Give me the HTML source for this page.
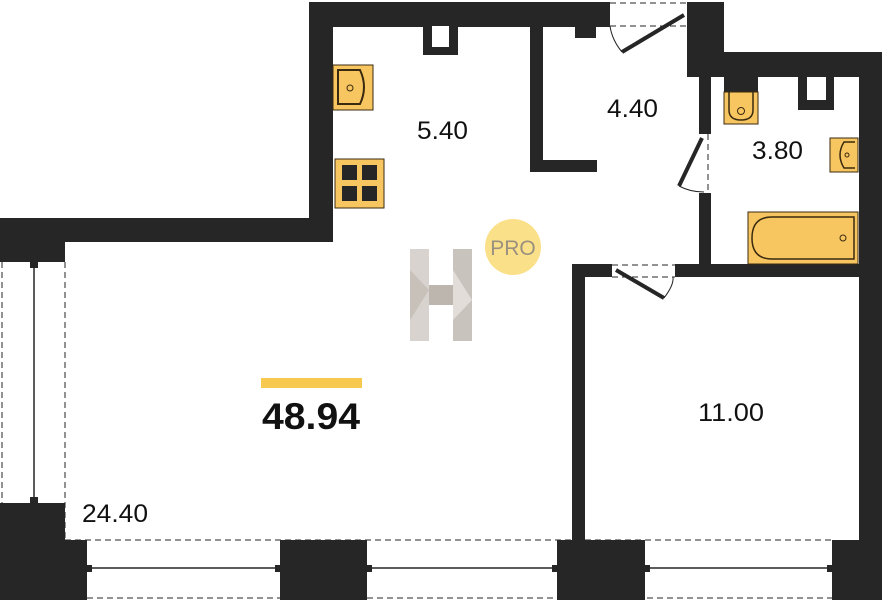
<!DOCTYPE html>
<html><head><meta charset="utf-8"><style>
html,body{margin:0;padding:0;background:#fff;}
svg{display:block;}
text{font-family:"Liberation Sans",sans-serif;}
</style></head><body>
<svg width="882" height="600" viewBox="0 0 882 600" xmlns="http://www.w3.org/2000/svg">
<g fill="#262626">
<rect x="309" y="2" width="301" height="25"/>
<rect x="309" y="2" width="24" height="240"/>
<rect x="0" y="218" width="333" height="24"/>
<rect x="0" y="218" width="65" height="44"/>
<rect x="0" y="503" width="65" height="97"/>
<rect x="0" y="540" width="87" height="60"/>
<rect x="280" y="540" width="87" height="60"/>
<rect x="557" y="540" width="88" height="60"/>
<rect x="832" y="540" width="50" height="60"/>
<rect x="687" y="2" width="37" height="56"/>
<rect x="687" y="52" width="195" height="25"/>
<rect x="859" y="52" width="23" height="548"/>
<rect x="699" y="70" width="12" height="64"/>
<rect x="699" y="193" width="12" height="80"/>
<rect x="572" y="264" width="13" height="276"/>
<rect x="572" y="264" width="40" height="13"/>
<rect x="675" y="264" width="190" height="13"/>
<rect x="530" y="26" width="13" height="146"/>
<rect x="530" y="160" width="67" height="12"/>
<rect x="575" y="26" width="21" height="12"/>
<rect x="423" y="26" width="35" height="29"/>
<rect x="798" y="77" width="36" height="33"/>
<rect x="724" y="77" width="34" height="15"/>
</g>
<rect x="432" y="26" width="17" height="21" fill="#fff"/>
<rect x="807" y="77" width="19" height="23" fill="#fff"/>
<g stroke="#262626" fill="none">
<line x1="684" y1="15" x2="622" y2="52" stroke-width="4"/>
<path d="M622 52 Q612 40 610 26" stroke-width="1"/>
<line x1="610" y1="3" x2="687" y2="3" stroke-dasharray="6,4" stroke-width="1"/>
<line x1="610" y1="26" x2="687" y2="26" stroke-dasharray="6,4" stroke-width="1"/>
<line x1="702" y1="138" x2="679" y2="186" stroke-width="4"/>
<path d="M679 186 Q690 192 704 192" stroke-width="1"/>
<line x1="708" y1="134" x2="708" y2="193" stroke-dasharray="6,4" stroke-width="1"/>
<line x1="616" y1="270" x2="664" y2="298" stroke-width="4"/>
<path d="M664 298 Q674 285 673 277" stroke-width="1"/>
<line x1="612" y1="265" x2="675" y2="265" stroke-dasharray="6,4" stroke-width="1"/>
<line x1="612" y1="277" x2="675" y2="277" stroke-dasharray="6,4" stroke-width="1"/>
<line x1="2" y1="262" x2="2" y2="503" stroke-dasharray="6,4" stroke-width="1"/>
<line x1="65" y1="262" x2="65" y2="540" stroke-dasharray="6,4" stroke-width="1"/>
<line x1="34" y1="265" x2="34" y2="500" stroke-width="1.5"/>
<line x1="65" y1="540" x2="832" y2="540" stroke-dasharray="6,4" stroke-width="1"/>
<line x1="87" y1="598" x2="832" y2="598" stroke-dasharray="6,4" stroke-width="1"/>
<line x1="90" y1="568" x2="278" y2="568" stroke-width="1.5"/>
<line x1="369" y1="568" x2="555" y2="568" stroke-width="1.5"/>
<line x1="647" y1="568" x2="830" y2="568" stroke-width="1.5"/>
</g>
<g fill="#262626">
<rect x="30" y="262" width="8" height="6"/><rect x="30" y="497" width="8" height="6"/>
<rect x="87" y="565" width="5" height="7"/><rect x="275" y="565" width="5" height="7"/>
<rect x="367" y="565" width="5" height="7"/><rect x="552" y="565" width="5" height="7"/>
<rect x="645" y="565" width="5" height="7"/><rect x="827" y="565" width="5" height="7"/>
</g>
<g fill="#f8c660" stroke="#3a2a10" stroke-width="1">
<rect x="333" y="65" width="40" height="45"/>
<path d="M338 70 H360 Q368 87 360 104 H338 Z" fill="none" stroke-width="2"/>
<circle cx="350" cy="88" r="3" fill="none"/>
<rect x="335" y="159" width="49" height="49"/>
<rect x="724" y="92" width="34" height="32"/>
<path d="M729 92 V110 Q729 120 741 120 Q753 120 753 110 V92" fill="none" stroke-width="1.5"/>
<circle cx="741" cy="111" r="3.5" fill="none"/>
<rect x="830" y="138" width="28" height="34"/>
<path d="M855 142 H844 Q836 155 844 168 H855" fill="none" stroke-width="1.5"/>
<circle cx="847" cy="155" r="2" fill="none"/>
<rect x="748" y="212" width="110" height="52"/>
<path d="M854 217 H772 Q752 217 752 238 Q752 259 772 259 H854 Z" fill="none" stroke-width="1.5"/>
<circle cx="843" cy="238" r="3" fill="none"/>
</g>
<g fill="#262626">
<rect x="342" y="165" width="15" height="15"/><rect x="362" y="165" width="15" height="15"/>
<rect x="342" y="186" width="15" height="15"/><rect x="362" y="186" width="15" height="15"/>
</g>
<rect x="410" y="249" width="19" height="92" fill="#d8d3ce"/>
<rect x="453" y="249" width="19" height="92" fill="#c9c3bd"/>
<rect x="429" y="285" width="24" height="20" fill="#bdb6af"/>
<polygon points="410,270 429,290 410,320" fill="#c8c1ba"/>
<polygon points="453,270 472,300 453,320" fill="#e2ddd8"/>
<circle cx="513" cy="247" r="28" fill="#fbe08a"/>
<text x="513" y="255" font-size="21" fill="#9a907f" text-anchor="middle">PRO</text>
<rect x="261" y="378" width="101" height="10" fill="#f8c94f"/>
<text x="262" y="429" font-size="37" font-weight="bold" fill="#111" textLength="98" lengthAdjust="spacingAndGlyphs">48.94</text>
<g font-size="25" fill="#111">
<text x="417" y="139" textLength="51" lengthAdjust="spacingAndGlyphs">5.40</text>
<text x="607" y="117" textLength="51" lengthAdjust="spacingAndGlyphs">4.40</text>
<text x="752" y="159" textLength="51" lengthAdjust="spacingAndGlyphs">3.80</text>
<text x="698" y="421" textLength="66" lengthAdjust="spacingAndGlyphs">11.00</text>
<text x="82" y="522" textLength="66" lengthAdjust="spacingAndGlyphs">24.40</text>
</g>
</svg>
</body></html>
